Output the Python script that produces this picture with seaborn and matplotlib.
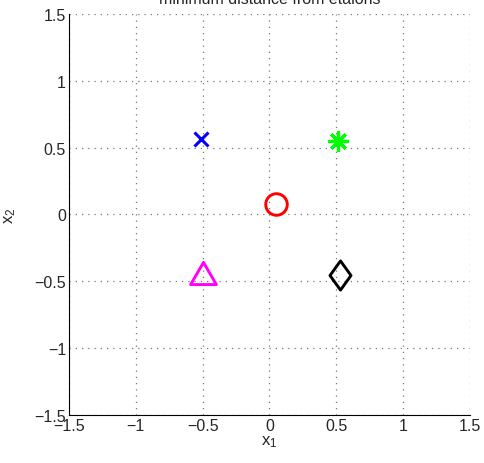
import numpy as np
import seaborn as sns
import matplotlib.pyplot as plt
from matplotlib.path import Path

# station positions
names = ['x', 'star', 'circle', 'triangle', 'diamond']
x1 = [-0.51, 0.51, 0.05, -0.50, 0.53]
x2 = [0.565, 0.55, 0.08, -0.44, -0.455]
colors = ['#0000ff', '#00ff00', '#ff0000', '#ff00ff', '#000000']
ticks = [-1.5, -1, -0.5, 0, 0.5, 1, 1.5]
tick_labels = ['\u22121.5', '\u22121', '\u22120.5', '0', '0.5', '1', '1.5']

tri = Path([(0, 1), (-1.16, -1), (1.16, -1), (0, 1)], closed=True)
dia = Path([(0, 1), (0.72, 0), (0, -1), (-0.72, 0), (0, 1)], closed=True)
markers = ['x', (8, 2, 0), 'o', tri, dia]
msizes = [10, 14.5, 15.5, 18.5, 21]
mews = [2.2, 2.3, 2.1, 2.1, 2.1]

sns.set_style('white')
plt.rcParams['font.family'] = ['Liberation Sans', 'DejaVu Sans']
plt.rcParams['mathtext.default'] = 'regular'

fig = plt.figure(figsize=(4.85, 4.64), dpi=100)
ax = fig.add_axes([0.142, 0.1034, 0.827, 0.8646])

for i in range(len(names)):
    sns.lineplot(x=[x1[i]], y=[x2[i]], ax=ax, marker=markers[i], markersize=msizes[i],
                 markeredgewidth=mews[i], markeredgecolor=colors[i], markerfacecolor='none',
                 color=colors[i], linestyle='', estimator=None)

ax.set_xlim(-1.5, 1.5)
ax.set_ylim(-1.5, 1.5)
ax.set_xticks(ticks)
ax.set_xticklabels(tick_labels)
ax.set_yticks(ticks)
ax.set_yticklabels(tick_labels)
ax.tick_params(direction='in', length=4, width=0.6, labelsize=11.5, pad=2, color='black')
ax.grid(True, linestyle=(0, (1, 4)), linewidth=0.9, color='#777777')
for s in ['top', 'right']:
    ax.spines[s].set_visible(False)
for s in ['left', 'bottom']:
    ax.spines[s].set_color('black')
    ax.spines[s].set_linewidth(0.8)

ax.set_title('minimum distance from etalons', fontsize=11.5, pad=8)
ax.set_xlabel('$x_1$', fontsize=12, labelpad=0)
ax.set_ylabel('$x_2$', fontsize=12, labelpad=12)

fig.savefig('out.png', dpi=100)
